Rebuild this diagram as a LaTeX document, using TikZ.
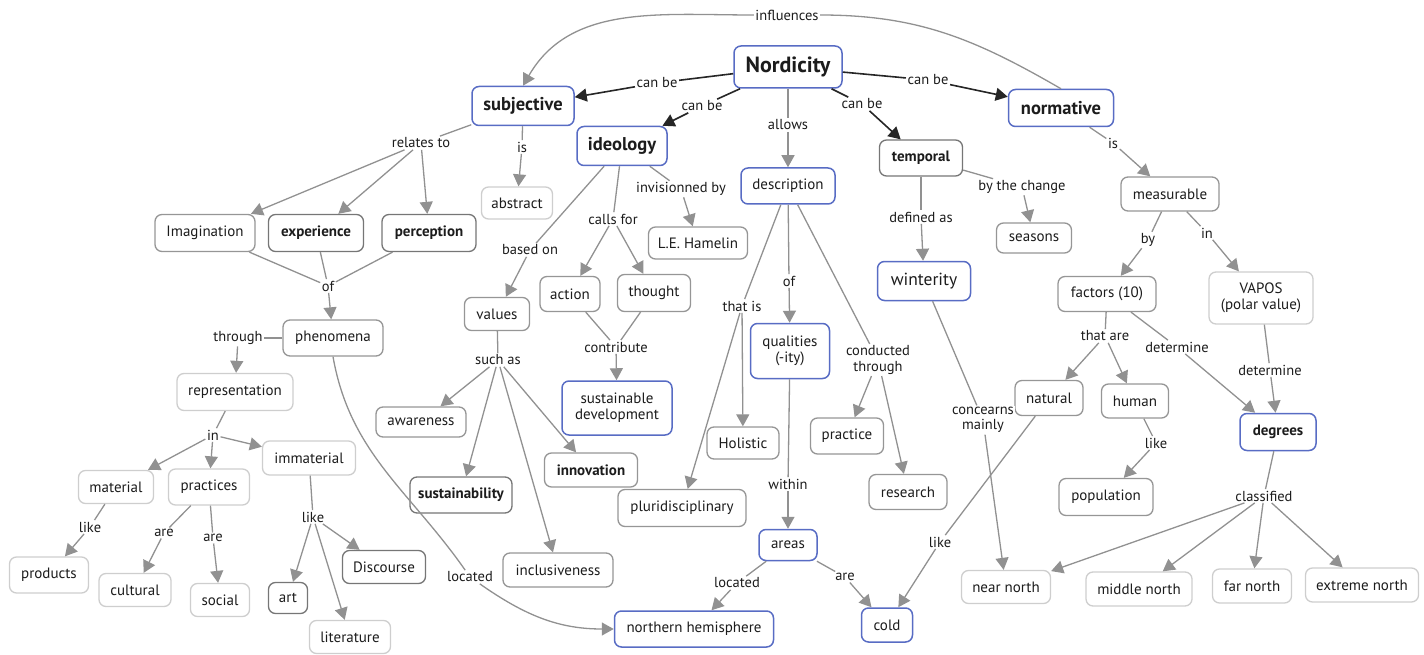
\documentclass[tikz,border=0pt]{standalone}
\usepackage{fontspec}
\setmainfont{PT Sans}
\usetikzlibrary{arrows.meta}
\definecolor{nordBlue}{RGB}{88,108,196}
\definecolor{nordGray}{RGB}{150,150,150}
\definecolor{nordDark}{RGB}{118,118,118}
\definecolor{nordLight}{RGB}{206,206,206}
\definecolor{nordText}{RGB}{28,28,28}
\definecolor{nordLink}{RGB}{145,145,145}

\begin{document}
\begin{tikzpicture}[x=1pt,y=1pt,
    concept/.style={draw=nordGray, line width=1.3pt, rounded corners=7pt, fill=white, text=nordText, inner sep=2pt, font=\fontsize{15}{16}\selectfont},
    faint/.style={concept, draw=nordLight},
    dark/.style={concept, draw=nordDark},
    key/.style={concept, draw=nordBlue, line width=1.5pt},
    strong/.style={font=\fontsize{15}{16}\selectfont\bfseries},
    head/.style={font=\fontsize{18.5}{20}\selectfont\bfseries},
    wh/.style 2 args={minimum width=#1pt, minimum height=#2pt},
    lbl/.style={fill=white, text=nordText, inner sep=1.5pt, align=center, font=\fontsize{14.5}{15.5}\selectfont},
    link/.style={draw=nordLink, line width=1.3pt},
    arr/.style={link, -{Triangle[width=13pt,length=12pt]}},
    canline/.style={draw=black!85, line width=1.6pt},
    canbe/.style={canline, -{Triangle[width=13pt,length=12pt]}}]
    \useasboundingbox (0,0) rectangle (1424,-655);

    % main concepts
    \node[key, wh={108}{42}, font=\fontsize{22}{24}\selectfont\bfseries] (nord) at (788,-67) {Nordicity};
    \node[key, head, wh={102}{39}] (subj) at (523,-106) {subjective};
    \node[key, head, wh={90}{39}] (ideo) at (622,-146) {ideology};
    \node[key, head, wh={105}{37}] (norm) at (1061,-108) {normative};
    \node[key, wh={94}{36}] (descr) at (788,-186) {description};
    \node[dark, strong, wh={83}{36}] (temp) at (921,-158) {temporal};

    % subjective side
    \node[faint, wh={71}{32}] (abstr) at (517,-203) {abstract};
    \node[concept, wh={100}{37}] (imag) at (205,-233) {Imagination};
    \node[dark, strong, wh={95}{37}] (exper) at (316,-233) {experience};
    \node[dark, strong, wh={94}{37}] (perc) at (429,-233) {perception};
    \node[concept, wh={100}{36}] (phen) at (333,-338) {phenomena};
    \node[faint, wh={116}{37}] (repr) at (235,-392) {representation};
    \node[faint, wh={75}{33}] (mater) at (116,-487) {material};
    \node[faint, wh={81}{36}] (practs) at (209,-487) {practices};
    \node[faint, wh={93}{34}] (immat) at (309,-458) {immaterial};
    \node[faint, wh={79}{36}] (prod) at (49,-575) {products};
    \node[faint, wh={72}{33}] (cult) at (135,-590) {cultural};
    \node[faint, wh={59}{33}] (social) at (220,-600) {social};
    \node[dark, wh={39}{31}] (art) at (288,-598) {art};
    \node[dark, wh={83}{33}] (disc) at (384,-567) {Discourse};
    \node[faint, wh={81}{33}] (lit) at (350,-637) {literature};

    % ideology side
    \node[concept, wh={99}{32}] (hamelin) at (698,-243) {L.E. Hamelin};
    \node[concept, wh={60}{35}] (action) at (570,-294) {action};
    \node[concept, wh={73}{37}] (thought) at (654,-293) {thought};
    \node[concept, wh={65}{33}] (values) at (497,-314) {values};
    \node[key, align=center, wh={110}{54}] (susdev) at (617,-408) {sustainable\\development};
    \node[concept, wh={90}{30}] (aware) at (421,-422) {awareness};
    \node[dark, strong, wh={102}{36}] (sustain) at (461,-495) {sustainability};
    \node[concept, strong, wh={93}{34}] (innov) at (591,-470) {innovation};
    \node[concept, wh={110}{34}] (inclus) at (558,-570) {inclusiveness};

    % description side
    \node[key, align=center, wh={79}{55}] (qual) at (790,-351) {qualities\\(-ity)};
    \node[concept, wh={72}{32}] (holist) at (743,-443) {Holistic};
    \node[concept, wh={128}{37}] (plur) at (682,-508) {pluridisciplinary};
    \node[concept, wh={73}{36}] (pract) at (847,-436) {practice};
    \node[concept, wh={78}{35}] (resear) at (908,-492) {research};
    \node[key, wh={58}{31}] (areas) at (788,-545) {areas};
    \node[key, wh={159}{36}] (nhemi) at (694,-629) {northern hemisphere};
    \node[key, wh={51}{34}] (cold) at (887,-625) {cold};

    % temporal and normative side
    \node[concept, wh={75}{30}] (seas) at (1034,-238) {seasons};
    \node[key, wh={93}{39}, font=\fontsize{17.5}{19}\selectfont] (wint) at (924,-281) {winterity};
    \node[concept, wh={98}{34}] (meas) at (1170,-194) {measurable};
    \node[concept, wh={98}{35}] (fact) at (1107,-294) {factors (10)};
    \node[faint, align=center, wh={104}{52}] (vapos) at (1261,-298) {VAPOS\\(polar value)};
    \node[concept, wh={68}{35}] (natural) at (1049,-398) {natural};
    \node[concept, wh={67}{34}] (human) at (1135,-401) {human};
    \node[key, strong, wh={76}{37}] (degr) at (1278,-432) {degrees};
    \node[concept, wh={94}{37}] (popul) at (1106,-497) {population};
    \node[faint, wh={89}{33}] (nearN) at (1006,-587) {near north};
    \node[faint, wh={106}{34}] (midN) at (1139,-589) {middle north};
    \node[faint, wh={79}{34}] (farN) at (1252,-586) {far north};
    \node[faint, wh={113}{34}] (extrN) at (1362,-585) {extreme north};

    % linking phrases
    \node[lbl] (linfl) at (787,-15) {influences};
    \node[lbl] (lcbS) at (657,-83) {can be};
    \node[lbl] (lcbI) at (702,-106) {can be};
    \node[lbl] (lallow) at (788,-125) {allows};
    \node[lbl] (lcbT) at (862,-104) {can be};
    \node[lbl] (lcbN) at (928,-80) {can be};
    \node[lbl] (lrel) at (421,-143) {relates to};
    \node[lbl] (lisA) at (522,-147) {is};
    \node[lbl] (lisN) at (1113,-143) {is};
    \node[lbl] (lbased) at (530,-250) {based on};
    \node[lbl] (lcalls) at (613,-219) {calls for};
    \node[lbl] (linvis) at (681,-189) {invisionned by};
    \node[lbl] (ldef) at (921,-217) {defined as};
    \node[lbl] (lchange) at (1022,-187) {by the change};
    \node[lbl] (lby) at (1148,-240) {by};
    \node[lbl] (linV) at (1207,-233) {in};
    \node[lbl] (lofP) at (328,-286) {of};
    \node[lbl] (lthrough) at (238,-338) {through};
    \node[lbl] (lthat) at (742,-306) {that is};
    \node[lbl] (lofQ) at (789,-281) {of};
    \node[lbl] (lcond) at (878,-360) {conducted\\through};
    \node[lbl] (lwithin) at (788,-484) {within};
    \node[lbl] (lcontr) at (616,-347) {contribute};
    \node[lbl] (lsuch) at (498,-360) {such as};
    \node[lbl] (linR) at (213,-435) {in};
    \node[lbl] (llikeM) at (90,-527) {like};
    \node[lbl] (lareC) at (164,-533) {are};
    \node[lbl] (lareS) at (213,-538) {are};
    \node[lbl] (llikeI) at (313,-517) {like};
    \node[lbl] (llocP) at (470,-577) {located};
    \node[lbl] (llocA) at (737,-583) {located};
    \node[lbl] (lareA) at (845,-577) {are};
    \node[lbl] (llikeN) at (940,-542) {like};
    \node[lbl] (lconc) at (983,-420) {concearns\\mainly};
    \node[lbl] (lthatare) at (1105,-336) {that are};
    \node[lbl] (ldetF) at (1177,-347) {determine};
    \node[lbl] (ldetV) at (1270,-370) {determine};
    \node[lbl] (llikeH) at (1156,-443) {like};
    \node[lbl] (lclass) at (1264,-496) {classified};

    % Nordicity links
    \draw[canline] (nord) -- (lcbS);
    \draw[canbe] (lcbS) -- (subj);
    \draw[canline] (nord) -- (lcbI);
    \draw[canbe] (lcbI) -- (ideo);
    \draw[canline] (nord) -- (lcbT);
    \draw[canbe] (lcbT) -- (temp);
    \draw[canline] (nord) -- (lcbN);
    \draw[canbe] (lcbN) -- (norm);
    \draw[link] (nord) -- (lallow);
    \draw[arr] (lallow) -- (descr);
    \draw[link] (norm.north) to[out=150,in=0] (linfl);
    \draw[arr] (linfl) to[out=180,in=60] (subj.north);

    % subjective
    \draw[link] (subj) -- (lisA);
    \draw[arr] (lisA) -- (abstr);
    \draw[link] (subj) -- (lrel);
    \draw[arr] (lrel) -- (imag);
    \draw[arr] (lrel) -- (exper);
    \draw[arr] (lrel) -- (perc);
    \draw[link] (imag) -- (lofP);
    \draw[link] (exper) -- (lofP);
    \draw[link] (perc) -- (lofP);
    \draw[arr] (lofP) -- (phen);
    \draw[link] (phen) -- (lthrough);
    \draw[arr] (lthrough) -- (repr);
    \draw[link] (repr) -- (linR);
    \draw[arr] (linR) -- (mater);
    \draw[arr] (linR) -- (practs);
    \draw[arr] (linR) -- (immat);
    \draw[link] (mater) -- (llikeM);
    \draw[arr] (llikeM) -- (prod);
    \draw[link] (practs) -- (lareC);
    \draw[arr] (lareC) -- (cult);
    \draw[link] (practs) -- (lareS);
    \draw[arr] (lareS) -- (social);
    \draw[link] (immat) -- (llikeI);
    \draw[arr] (llikeI) -- (art);
    \draw[arr] (llikeI) -- (lit);
    \draw[arr] (llikeI) -- (disc);
    \draw[link] (phen.south) to[out=-80,in=125] (llocP);
    \draw[arr] (llocP) to[out=-35,in=180] (nhemi);

    % ideology
    \draw[link] (ideo) -- (lbased);
    \draw[arr] (lbased) -- (values);
    \draw[link] (ideo) -- (lcalls);
    \draw[arr] (lcalls) -- (action);
    \draw[arr] (lcalls) -- (thought);
    \draw[link] (ideo) -- (linvis);
    \draw[arr] (linvis) -- (hamelin);
    \draw[link] (action) -- (lcontr);
    \draw[link] (thought) -- (lcontr);
    \draw[arr] (lcontr) -- (susdev);
    \draw[link] (values) -- (lsuch);
    \draw[arr] (lsuch) -- (aware);
    \draw[arr] (lsuch) -- (sustain);
    \draw[arr] (lsuch) -- (innov);
    \draw[arr] (lsuch) -- (inclus);

    % description
    \draw[link] (descr) -- (lofQ);
    \draw[arr] (lofQ) -- (qual);
    \draw[link] (descr) -- (lthat);
    \draw[arr] (lthat) -- (holist);
    \draw[arr] (lthat) -- (plur);
    \draw[link] (descr) -- (lcond);
    \draw[arr] (lcond) -- (pract);
    \draw[arr] (lcond) -- (resear);
    \draw[link] (qual) -- (lwithin);
    \draw[arr] (lwithin) -- (areas);
    \draw[link] (areas) -- (llocA);
    \draw[arr] (llocA) -- (nhemi);
    \draw[link] (areas) -- (lareA);
    \draw[arr] (lareA) -- (cold);

    % temporal
    \draw[link] (temp) -- (ldef);
    \draw[arr] (ldef) -- (wint);
    \draw[link] (temp) -- (lchange);
    \draw[arr] (lchange) -- (seas);
    \draw[link] (wint) -- (lconc);
    \draw[arr] (lconc) -- (nearN);

    % normative
    \draw[link] (norm) -- (lisN);
    \draw[arr] (lisN) -- (meas);
    \draw[link] (meas) -- (lby);
    \draw[arr] (lby) -- (fact);
    \draw[link] (meas) -- (linV);
    \draw[arr] (linV) -- (vapos);
    \draw[link] (fact) -- (lthatare);
    \draw[arr] (lthatare) -- (natural);
    \draw[arr] (lthatare) -- (human);
    \draw[link] (fact) -- (ldetF);
    \draw[arr] (ldetF) -- (degr);
    \draw[link] (vapos) -- (ldetV);
    \draw[arr] (ldetV) -- (degr);
    \draw[link] (human) -- (llikeH);
    \draw[arr] (llikeH) -- (popul);
    \draw[link] (natural) -- (llikeN);
    \draw[arr] (llikeN) -- (cold);
    \draw[link] (degr) -- (lclass);
    \draw[arr] (lclass) -- (nearN);
    \draw[arr] (lclass) -- (midN);
    \draw[arr] (lclass) -- (farN);
    \draw[arr] (lclass) -- (extrN);
\end{tikzpicture}
\end{document}
